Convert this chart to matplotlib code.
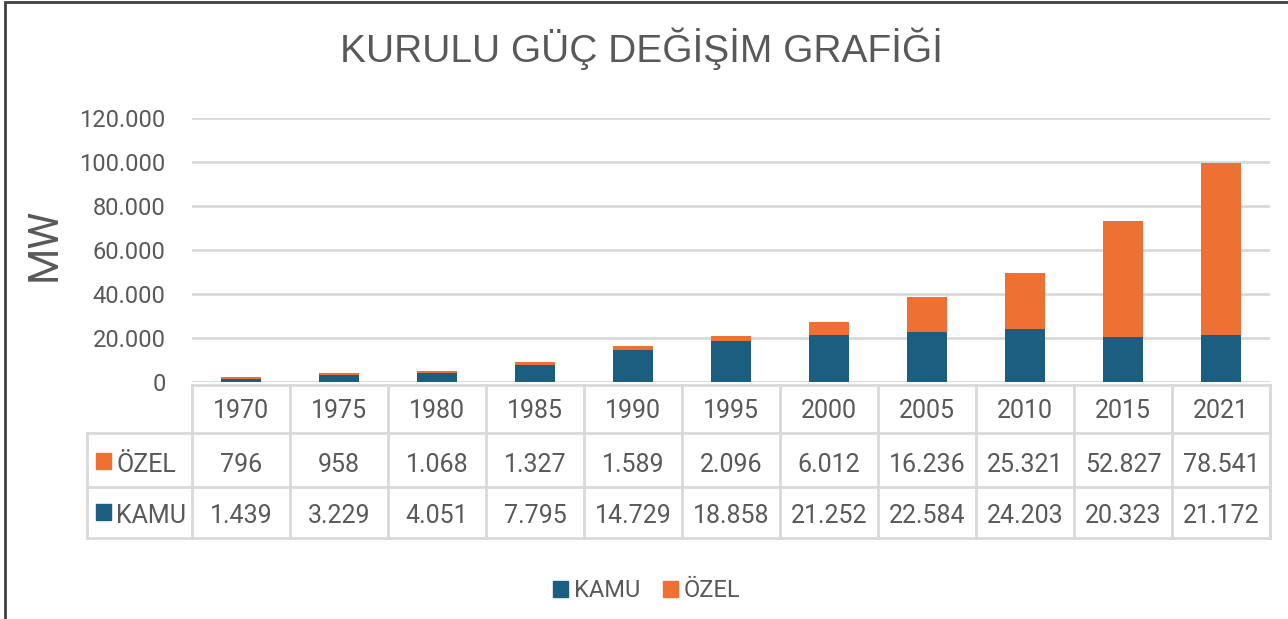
import numpy as np
import matplotlib.pyplot as plt
from matplotlib.patches import Rectangle
from matplotlib.ticker import FuncFormatter

years = ["1970", "1975", "1980", "1985", "1990", "1995", "2000", "2005", "2010", "2015", "2021"]
kamu = [1439, 3229, 4051, 7795, 14729, 18858, 21252, 22584, 24203, 20323, 21172]
ozel = [796, 958, 1068, 1327, 1589, 2096, 6012, 16236, 25321, 52827, 78541]

blue = "#1B5E7F"
orange = "#ED7132"
grey = "#595959"
line_c = "#D9D9D9"
font = "Roboto"

W, H = 1288, 619


def fx(px):
    return px / W


def fy(py):
    return 1 - py / H


def tr(v):
    # Turkish thousands separator
    return f"{v:,}".replace(",", ".")


fig = plt.figure(figsize=(W / 100, H / 100), dpi=100)

# chart area
ax = fig.add_axes([fx(192), fy(382), fx(1270) - fx(192), fy(118) - fy(382)])
x = np.arange(len(years))
ax.bar(x, kamu, width=0.4, color=blue, zorder=3, label="KAMU")
ax.bar(x, ozel, bottom=kamu, width=0.4, color=orange, zorder=3, label="ÖZEL")
ax.set_xlim(-0.5, len(years) - 0.5)
ax.set_ylim(0, 120000)
ax.set_yticks(range(0, 120001, 20000))
ax.yaxis.set_major_formatter(FuncFormatter(lambda v, p: tr(int(v))))
ax.set_xticks([])
ax.yaxis.grid(True, color=line_c, lw=2, zorder=0)
for s in ax.spines.values():
    s.set_visible(False)
ax.tick_params(axis="y", length=0, pad=19, labelsize=17, labelcolor=grey)
for lab in ax.get_yticklabels():
    lab.set_fontfamily(font)

fig.text(fx(44), fy(244), "MW", rotation=90, ha="center", va="center",
         fontsize=30, color=grey, family=font)

# data table under the bars
label_w = (192 - 87) / ((1270 - 192) / len(years))
tax = fig.add_axes([fx(87), fy(538), fx(1270) - fx(87), fy(385) - fy(538)])
tax.set_xlim(-0.5 - label_w, len(years) - 0.5)
tax.set_ylim(538, 385)
tax.axis("off")
lk = dict(color=line_c, lw=2, solid_capstyle="projecting", clip_on=False)
left = -0.5 - label_w
right = len(years) - 0.5
tax.plot([-0.5, right], [385, 385], **lk)
for yy in [433, 487, 538]:
    tax.plot([left, right], [yy, yy], **lk)
for i in range(len(years) + 1):
    tax.plot([i - 0.5, i - 0.5], [385, 538], **lk)
tax.plot([left, left], [433, 538], **lk)
tax.plot([right, right], [385, 538], **lk)

tk = dict(ha="center", va="baseline", fontsize=18, color=grey, family=font)
for i, yr in enumerate(years):
    tax.text(i, 418, yr, **tk)
    tax.text(i, 472, tr(ozel[i]), **tk)
    tax.text(i, 523, tr(kamu[i]), **tk)

# row labels
for name, col, base in [("ÖZEL", orange, 472), ("KAMU", blue, 523)]:
    fig.patches.append(Rectangle((fx(96), fy(base - 3)), 15 / W, 16 / H,
                                 transform=fig.transFigure, color=col))
    fig.text(fx(116), fy(base), name, ha="left", va="baseline",
             fontsize=18, color=grey, family=font)

# legend
for name, col, sx in [("KAMU", blue, 553), ("ÖZEL", orange, 663)]:
    fig.patches.append(Rectangle((fx(sx), fy(597)), 15 / W, 16 / H,
                                 transform=fig.transFigure, color=col))
    fig.text(fx(sx + 21), fy(597), name, ha="left", va="baseline",
             fontsize=17, color=grey, family=font)

fig.text(fx(641), fy(62), "KURULU GÜÇ DEĞİŞİM GRAFİĞİ", ha="center", va="baseline",
         fontsize=28, color=grey, family=["Liberation Sans", "DejaVu Sans"])

# outer frame (only left and top edges are visible in the crop)
fig.patches.append(Rectangle((fx(5), -0.2), 1.5, fy(2) + 0.2, transform=fig.transFigure,
                             fill=False, edgecolor="#404040", lw=2))

fig.savefig("out.png", dpi=100)
